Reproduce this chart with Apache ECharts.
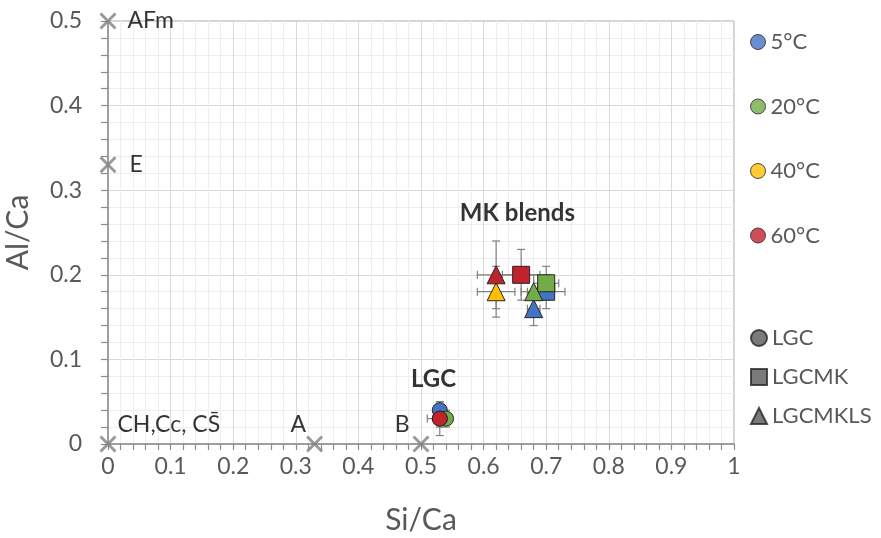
<!DOCTYPE html>
<html>
<head>
<meta charset="utf-8">
<script src="https://cdn.jsdelivr.net/npm/echarts@6/dist/echarts.min.js"></script>
<style>html,body{margin:0;padding:0;background:#fff}#c{width:881px;height:538px}</style>
</head>
<body>
<div id="c"></div>
<script>
// ---- data ----
const temps = ['5°C', '20°C', '40°C', '60°C'];
const tempColors = ['#4472C4', '#70AD47', '#FFC000', '#C0232B'];
const shapes = ['LGC', 'LGCMK', 'LGCMKLS'];

// LGC (circles)
const lgcX = [0.53, 0.54, 0.53, 0.53];
const lgcY = [0.04, 0.03, 0.03, 0.03];
const lgcXErr = [0.01, 0.01, 0.01, 0.02];
const lgcYErr = [0.01, 0.01, 0.01, 0.02];
// LGCMK (squares)
const lgcmkX = [0.70, 0.70, null, 0.66];
const lgcmkY = [0.18, 0.19, null, 0.20];
const lgcmkXErr = [0.03, 0.02, null, 0.03];
const lgcmkYErr = [0.02, 0.02, null, 0.03];
// LGCMKLS (triangles)
const lgcmklsX = [0.68, 0.68, 0.62, 0.62];
const lgcmklsY = [0.16, 0.18, 0.18, 0.20];
const lgcmklsXErr = [0.01, 0.02, 0.03, 0.03];
const lgcmklsYErr = [0.02, 0.02, 0.03, 0.04];

// reference phases (X markers)
const refNames = ['AFm', 'E', 'CH,Cc, CS\u0304', 'A', 'B'];
const refX = [0, 0, 0, 0.33, 0.5];
const refY = [0.5, 0.33, 0, 0, 0];

// group annotations
const noteText = ['MK blends', 'LGC'];
const noteX = [0.654, 0.52];
const noteY = [0.273, 0.076];

const xTicks = [0, 0.1, 0.2, 0.3, 0.4, 0.5, 0.6, 0.7, 0.8, 0.9, 1];
const yTicks = [0, 0.1, 0.2, 0.3, 0.4, 0.5];

// ---- styles ----
const FONT = 'Lato, "Open Sans", sans-serif';
const GRAY = '#595959';
const shapeSymbols = ['circle', 'rect', 'triangle'];
const shapeSizes = [15, 17, 18];
const refLabelPos = {
  'AFm': {position: 'right', offset: [6, 0]},
  'E': {position: 'right', offset: [8, 0]},
  'CH,Cc, CS\u0304': {position: 'right', offset: [-4, -19]},
  'A': {position: 'left', offset: [5, -19]},
  'B': {position: 'left', offset: [2, -19]}
};

const shapeData = [
  [lgcX, lgcY, lgcXErr, lgcYErr],
  [lgcmkX, lgcmkY, lgcmkXErr, lgcmkYErr],
  [lgcmklsX, lgcmklsY, lgcmklsXErr, lgcmklsYErr]
];

const series = [];

// error bars
const errData = [];
shapeData.forEach(function (s) {
  for (let i = 0; i < temps.length; i++) {
    if (s[0][i] == null) continue;
    errData.push([s[0][i], s[1][i], s[2][i], s[3][i]]);
  }
});
series.push({
  type: 'custom',
  z: 2,
  silent: true,
  data: errData,
  renderItem: function (params, api) {
    const x = api.value(0), y = api.value(1), ex = api.value(2), ey = api.value(3);
    const l = api.coord([x - ex, y]), r = api.coord([x + ex, y]);
    const t = api.coord([x, y + ey]), b = api.coord([x, y - ey]);
    const cap = 4;
    const st = {stroke: '#808080', lineWidth: 1.2};
    return {
      type: 'group',
      children: [
        {type: 'line', shape: {x1: l[0], y1: l[1], x2: r[0], y2: r[1]}, style: st},
        {type: 'line', shape: {x1: l[0], y1: l[1] - cap, x2: l[0], y2: l[1] + cap}, style: st},
        {type: 'line', shape: {x1: r[0], y1: r[1] - cap, x2: r[0], y2: r[1] + cap}, style: st},
        {type: 'line', shape: {x1: t[0], y1: t[1], x2: b[0], y2: b[1]}, style: st},
        {type: 'line', shape: {x1: t[0] - cap, y1: t[1], x2: t[0] + cap, y2: t[1]}, style: st},
        {type: 'line', shape: {x1: b[0] - cap, y1: b[1], x2: b[0] + cap, y2: b[1]}, style: st}
      ]
    };
  }
});

// data points
shapeData.forEach(function (s, si) {
  for (let i = 0; i < temps.length; i++) {
    if (s[0][i] == null) continue;
    series.push({
      type: 'scatter',
      z: 3 + si,
      symbol: shapeSymbols[si],
      symbolSize: shapeSizes[si],
      data: [[s[0][i], s[1][i]]],
      itemStyle: {color: tempColors[i], borderColor: '#262626', borderWidth: 1, opacity: 1}
    });
  }
});

// reference X markers
series.push({
  type: 'scatter',
  z: 6,
  clip: false,
  symbol: 'path://M0,1.2 L1.2,0 L5,3.8 L8.8,0 L10,1.2 L6.2,5 L10,8.8 L8.8,10 L5,6.2 L1.2,10 L0,8.8 L3.8,5 Z',
  symbolSize: 17,
  itemStyle: {color: '#7F7F7F'},
  data: refNames.map(function (n, i) {
    return {
      value: [refX[i], refY[i]],
      label: Object.assign({show: true, formatter: n, color: '#000', fontSize: 23, fontFamily: FONT}, refLabelPos[n])
    };
  })
});

// annotations
series.push({
  type: 'scatter',
  z: 7,
  symbolSize: 0,
  silent: true,
  data: noteText.map(function (t, i) {
    return {
      value: [noteX[i], noteY[i]],
      label: {show: true, position: 'inside', formatter: t, color: '#000', fontSize: 24, fontWeight: 'bold', fontFamily: FONT}
    };
  })
});

// legend dummy series
temps.forEach(function (t, i) {
  series.push({
    type: 'scatter', name: t, data: [],
    itemStyle: {color: tempColors[i], borderColor: '#262626', borderWidth: 1}
  });
});
shapes.forEach(function (s, i) {
  series.push({
    type: 'scatter', name: s, data: [], symbol: shapeSymbols[i],
    itemStyle: {color: GRAY, borderColor: '#262626', borderWidth: 1}
  });
});

const option = {
  animation: false,
  backgroundColor: '#fff',
  grid: {left: 108, right: 147, top: 21, bottom: 94, containLabel: false, outerBoundsMode: 'none',
    show: true, borderColor: '#A6A6A6', borderWidth: 1, backgroundColor: 'transparent'},
  xAxis: {
    type: 'value', min: 0, max: 1, interval: 0.1,
    name: 'Si/Ca', nameLocation: 'middle', nameGap: 61,
    nameTextStyle: {fontSize: 30, color: GRAY, fontFamily: FONT},
    axisLine: {show: true, onZero: false, lineStyle: {color: '#8C8C8C', width: 1.5}},
    axisTick: {show: true, length: 6, lineStyle: {color: '#8C8C8C', width: 1.2}},
    minorTick: {show: true, splitNumber: 5, length: 6, lineStyle: {color: '#8C8C8C', width: 1.2}},
    splitLine: {show: true, lineStyle: {color: '#D9D9D9', width: 1}},
    minorSplitLine: {show: true, lineStyle: {color: '#EEEEEE', width: 1}},
    axisLabel: {fontSize: 23, color: GRAY, margin: 11, fontFamily: FONT,
      formatter: function (v) { const k = xTicks.findIndex(function (t) { return Math.abs(t - v) < 1e-9; }); return k >= 0 ? String(xTicks[k]) : ''; }}
  },
  yAxis: {
    type: 'value', min: 0, max: 0.5, interval: 0.1,
    name: 'Al/Ca', nameLocation: 'middle', nameGap: 75,
    nameTextStyle: {fontSize: 30, color: GRAY, fontFamily: FONT},
    axisLine: {show: true, onZero: false, lineStyle: {color: '#8C8C8C', width: 1.5}},
    axisTick: {show: true, length: 7, lineStyle: {color: '#8C8C8C', width: 1.2}},
    minorTick: {show: true, splitNumber: 5, length: 7, lineStyle: {color: '#8C8C8C', width: 1.2}},
    splitLine: {show: true, lineStyle: {color: '#D9D9D9', width: 1}},
    minorSplitLine: {show: true, lineStyle: {color: '#EEEEEE', width: 1}},
    axisLabel: {fontSize: 23, color: GRAY, margin: 26, fontFamily: FONT,
      formatter: function (v) { const k = yTicks.findIndex(function (t) { return Math.abs(t - v) < 1e-9; }); return k >= 0 ? String(yTicks[k]) : ''; }}
  },
  legend: [
    {
      data: temps, orient: 'vertical', left: 745, top: 26, itemGap: 42.5,
      icon: 'circle', itemWidth: 15, itemHeight: 15, itemStyle: {borderColor: '#262626', borderWidth: 1},
      selectedMode: false,
      textStyle: {fontSize: 22, color: GRAY, fontFamily: FONT, lineHeight: 22}
    },
    {
      data: shapes.map(function (s, i) { return {name: s, icon: shapeSymbols[i]}; }),
      orient: 'vertical', left: 745, top: 322, itemGap: 17,
      itemWidth: 16, itemHeight: 16, selectedMode: false,
      textStyle: {fontSize: 22, color: GRAY, fontFamily: FONT, lineHeight: 22}
    }
  ],
  series: series
};

const chart = echarts.init(document.getElementById('c'), null, {renderer: 'canvas'});
chart.setOption(option);
</script>
</body>
</html>
